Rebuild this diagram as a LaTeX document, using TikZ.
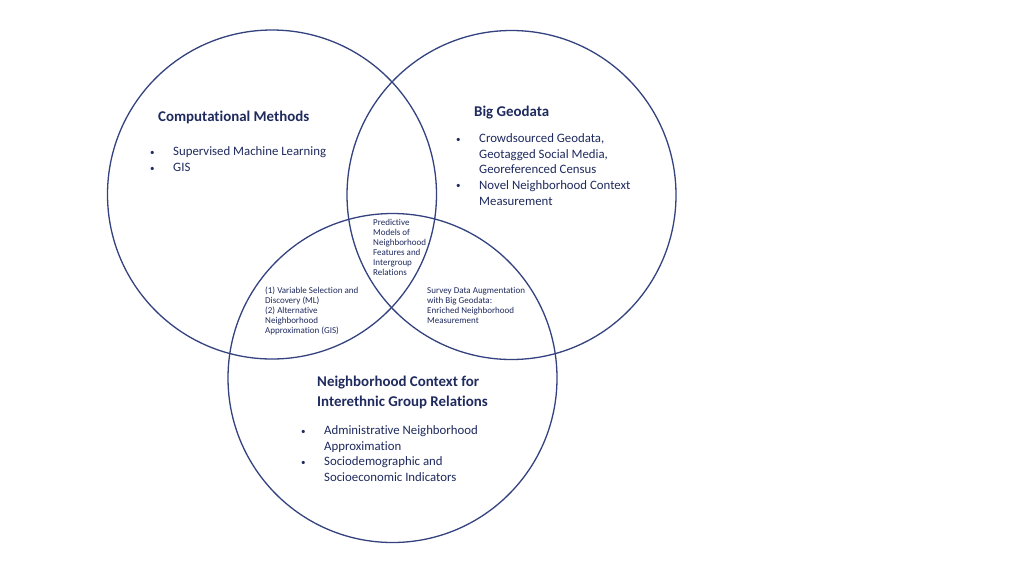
\documentclass[tikz,border=0pt]{standalone}
\usepackage{fontspec}
\setmainfont{Carlito}[Ligatures={NoCommon}]
\definecolor{cline}{HTML}{34427F}
\definecolor{tcol}{HTML}{1F2A5E}
\tikzset{
  vset/.style={circle, draw=cline, line width=1.3pt, minimum size=329pt, inner sep=0pt},
  ttl/.style={font=\bfseries\fontsize{14.9}{19}\selectfont, text=tcol, anchor=base west, align=left, inner sep=0pt},
  body/.style={font=\fontsize{12.8}{15.6}\selectfont, text=tcol, anchor=base west, align=left, inner sep=0pt},
  small/.style={font=\fontsize{9}{10}\selectfont, text=tcol, anchor=base west, align=left, inner sep=0pt}
}
\newcommand{\bul}{\makebox[23pt][l]{\raisebox{0.5pt}{\fontsize{9}{9}\selectfont •}}}
\newcommand{\ind}{\hspace*{23pt}}
\begin{document}
\begin{tikzpicture}[x=1pt,y=-1pt]
\fill[white] (0,0) rectangle (1024,574);
\useasboundingbox (0,0) rectangle (1024,574);
\node[vset] (cm) at (272,194.5) {};
\node[vset] (bg) at (511.5,195) {};
\node[vset] (nc) at (392.5,378) {};

\node[ttl] (cmt) at (158,121) {Computational Methods};
\node[body] (cmb) at (150,171.5) {\bul Supervised Machine Learning\\ \bul GIS};

\node[ttl] (bgt) at (474,116) {Big Geodata};
\node[body] (bgb) at (456,205) {\bul Crowdsourced Geodata,\\ \ind Geotagged Social Media,\\ \ind Georeferenced Census\\ \bul Novel Neighborhood Context\\ \ind Measurement};

\node[ttl, font=\bfseries\fontsize{14.9}{19.2}\selectfont] (nct) at (317,406) {Neighborhood Context for\\ Interethnic Group Relations};
\node[body] (ncb) at (301,481.5) {\bul Administrative Neighborhood\\ \ind Approximation\\ \bul Sociodemographic and\\ \ind Socioeconomic Indicators};

\node[small] (ctr) at (373,275) {Predictive\\ Models of\\ Neighborhood\\ Features and\\ Intergroup\\ Relations};
\node[small] (lft) at (265,333) {(1) Variable Selection and\\ Discovery (ML)\\ (2) Alternative\\ Neighborhood\\ Approximation (GIS)};
\node[small] (rgt) at (427,323) {Survey Data Augmentation\\ with Big Geodata:\\ Enriched Neighborhood\\ Measurement};
\end{tikzpicture}
\end{document}
